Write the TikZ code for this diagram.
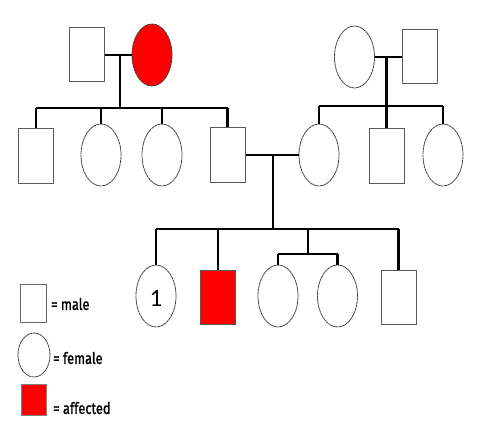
\documentclass[tikz,border=0pt]{standalone}
\usepackage{fontspec}
\usetikzlibrary{shapes.geometric}
\newfontfamily\legfont[FakeStretch=0.8,FakeBold=1.2]{Fira Sans}
\newfontfamily\numfont{Carlito}
\tikzset{
  male/.style={rectangle, draw=black!65, line width=1pt, minimum width=35pt, minimum height=54pt, inner sep=0pt},
  female/.style={ellipse, draw=black!75, line width=0.8pt, dash pattern=on 3pt off 0.5pt, minimum width=40pt, minimum height=62pt, inner sep=0pt},
  affected/.style={fill=red},
  rel/.style={line width=2.5pt, black},
  numtext/.style={inner sep=0pt, font=\numfont\fontsize{25}{27}\selectfont},
  legtext/.style={anchor=west, inner sep=0pt, font=\legfont\fontsize{16}{18}\selectfont}
}
\begin{document}
\begin{tikzpicture}[x=1pt,y=-1pt]
\useasboundingbox (0,0) rectangle (487,425);
% Generation I
\node[male] (g1m) at (86.5,55) {};
\node[female,affected] (g1f) at (152,55) {};
\node[female] (g2f) at (354.5,57) {};
\node[male] (g2m) at (419.5,57) {};
% Generation II
\node[male] (c1) at (36,156) {};
\node[female] (c2) at (101,155) {};
\node[female] (c3) at (162,155) {};
\node[male] (c4) at (227.5,155) {};
\node[female] (d1) at (319,155) {};
\node[male] (d2) at (386.5,156) {};
\node[female] (d3) at (443,155) {};
% Generation III
\node[female] (e1) at (156,296) {};
\node[numtext] (n1) at (156,298) {1};
\node[male,affected] (e2) at (218,297) {};
\node[female] (e3) at (278,296) {};
\node[female] (e4) at (337.5,296) {};
\node[male] (e5) at (398.5,297) {};
% junction coordinates
\coordinate (m1) at (120,55);
\coordinate (s1) at (120,108);
\coordinate (m2) at (386.5,57);
\coordinate (s2) at (386.5,106);
\coordinate (m3) at (273,155);
\coordinate (s3) at (273,229);
\coordinate (t1) at (308,229);
\coordinate (t2) at (308,254);
% Gen I left family
\draw[rel] (g1m.east) -- (g1f.west);
\draw[rel] (m1) -- (s1);
\draw[rel] (c1 |- s1) -- (c4 |- s1);
\foreach \c in {c1,c2,c3,c4} \draw[rel] (\c.north |- s1) -- (\c.north);
% Gen I right family
\draw[rel] (g2f.east) -- (g2m.west);
\draw[rel] (m2) -- (s2);
\draw[rel] (d1 |- s2) -- (d3 |- s2);
\foreach \c in {d1,d2,d3} \draw[rel] (\c.north |- s2) -- (\c.north);
% Gen II marriage
\draw[rel] (c4.east) -- (d1.west);
\draw[rel] (m3) -- (s3);
\draw[rel] (e1 |- s3) -- (e5 |- s3);
\foreach \c in {e1,e2,e5} \draw[rel] (\c.north |- s3) -- (\c.north);
% twins
\draw[rel] (t1) -- (t2);
\draw[rel] (e3.north |- t2) -- (e4.north |- t2);
\foreach \c in {e3,e4} \draw[rel] (\c.north |- t2) -- (\c.north);
% Legend
\node[rectangle, draw=black!60, line width=0.9pt, minimum width=26pt, minimum height=38pt, inner sep=0pt] (lm) at (33,303) {};
\node[ellipse, draw=black!75, line width=0.8pt, dash pattern=on 3pt off 0.5pt, minimum width=32pt, minimum height=44pt, inner sep=0pt] (lf) at (34,355) {};
\node[rectangle, fill=red, draw=black!50, line width=0.6pt, minimum width=25pt, minimum height=31pt, inner sep=0pt] (la) at (33.5,400) {};
\node[legtext] (tm) at (51,304) {= male};
\node[legtext] (tf) at (53,358) {= female};
\node[legtext] (ta) at (53,408) {= affected};
\end{tikzpicture}
\end{document}
